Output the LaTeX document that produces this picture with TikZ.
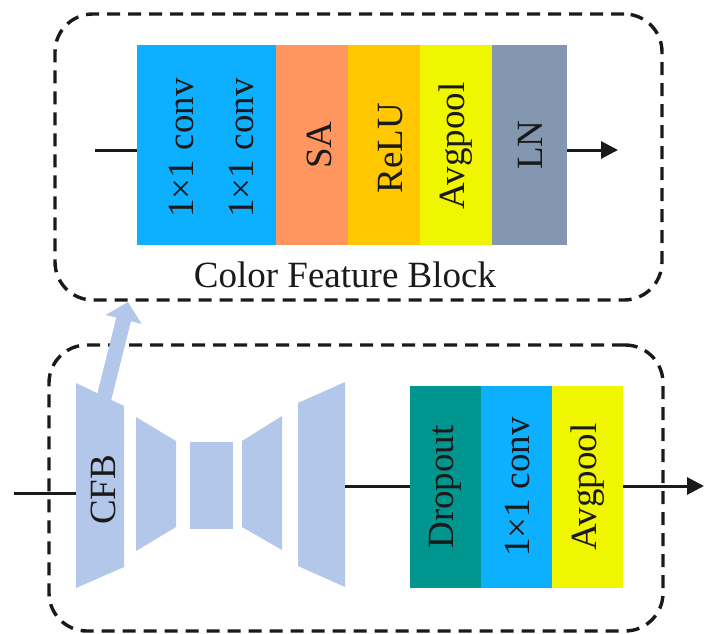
\documentclass[tikz,border=0pt]{standalone}
\usepackage{fontspec}
\setmainfont{Liberation Serif}
\usetikzlibrary{arrows.meta}

\definecolor{convblue}{HTML}{0DB0FF}
\definecolor{saorange}{HTML}{FF965F}
\definecolor{relugold}{HTML}{FFC800}
\definecolor{poolyellow}{HTML}{F0F500}
\definecolor{lngrey}{HTML}{8497B0}
\definecolor{dropteal}{HTML}{00968F}
\definecolor{trapblue}{HTML}{B2C7E9}
\definecolor{inkdark}{HTML}{1A1A1A}

\begin{document}
\begin{tikzpicture}[x=1pt, y=-1pt,
  blk/.style={draw=none, inner sep=0pt, outer sep=0pt, anchor=north west},
  txtfont/.style={font=\fontsize{37}{42}\selectfont, text=inkdark, inner sep=0pt},
  lbl/.style={txtfont, rotate=90},
  frame/.style={draw=inkdark, line width=3.4pt, dash pattern=on 13pt off 8pt,
                rounded corners=38pt, inner sep=0pt, outer sep=0pt, anchor=north west},
  wire/.style={draw=inkdark, line width=3pt},
  arr/.style={wire, -{Triangle[length=17pt,width=17pt]}},
  trap/.style={fill=trapblue},
  bigarrow/.style={draw=trapblue, line width=15pt, -{Triangle[length=18pt,width=36pt]}}
]
\useasboundingbox (0,0) rectangle (704,634);

% dashed enclosures
\node[frame, minimum width=607pt, minimum height=286pt] (cfbframe) at (55,14) {};
\node[frame, minimum width=614pt, minimum height=286pt] (netframe) at (49,345) {};

% arrow from the CFB stage up to its detailed view
\coordinate (cfbtop) at (103.5,400);
\coordinate (cfbview) at (128,302);
\draw[bigarrow] (cfbtop) -- (cfbview);

% encoder / decoder stages
\fill[trap] (76,383) -- (124,406) -- (124,567) -- (76,588) -- cycle;
\fill[trap] (136,417) -- (176,441) -- (176,527) -- (136,551) -- cycle;
\fill[trap] (190,442) rectangle (233,529);
\fill[trap] (242,441) -- (282,416) -- (282,550) -- (242,527) -- cycle;
\fill[trap] (298,403) -- (345,382) -- (345,587) -- (298,566) -- cycle;
\coordinate (cfbin) at (76,493);
\coordinate (decout) at (345,486);
\node[lbl] (cfb) at (103,490) {CFB};

% Color Feature Block layers
\node[blk, fill=convblue,   minimum width=139pt, minimum height=200pt] (conv)  at (137,45) {};
\node[blk, fill=saorange,   minimum width=72pt,  minimum height=200pt] (sa)    at (276,45) {};
\node[blk, fill=relugold,   minimum width=72pt,  minimum height=200pt] (relu)  at (348,45) {};
\node[blk, fill=poolyellow, minimum width=72pt,  minimum height=200pt] (pool)  at (420,45) {};
\node[blk, fill=lngrey,     minimum width=75pt,  minimum height=200pt] (ln)    at (492,45) {};

\node[lbl] (convA) at (181,148) {1×1 conv};
\node[lbl] (convB) at (241,148) {1×1 conv};
\node[lbl] (saT)   at (319,145) {SA};
\node[lbl] (reluT) at (391,148) {ReLU};
\node[lbl] (poolT) at (456,146) {Avgpool};
\node[lbl] (lnT)   at (530,145) {LN};

\node[txtfont] (cfbname) at (345,275) {Color Feature Block};

\coordinate (blockin) at (95,150);
\coordinate (blockout) at (618,150);
\draw[wire] (blockin) -- (blockin -| conv.west);
\draw[arr] (blockout -| ln.east) -- (blockout);

% head layers
\node[blk, fill=dropteal,   minimum width=71pt, minimum height=202pt] (drop)  at (410,386) {};
\node[blk, fill=convblue,   minimum width=71pt, minimum height=202pt] (hconv) at (481,386) {};
\node[blk, fill=poolyellow, minimum width=71pt, minimum height=202pt] (hpool) at (552,386) {};

\node[lbl] (dropT)  at (445,487) {Dropout};
\node[lbl] (hconvT) at (517,487) {1×1 conv};
\node[lbl] (hpoolT) at (588,487) {Avgpool};

\coordinate (netin) at (14,493);
\coordinate (netout) at (704,486);
\draw[wire] (netin) -- (cfbin);
\draw[wire] (decout) -- (decout -| drop.west);
\draw[arr] (netout -| hpool.east) -- (netout);

\end{tikzpicture}
\end{document}
